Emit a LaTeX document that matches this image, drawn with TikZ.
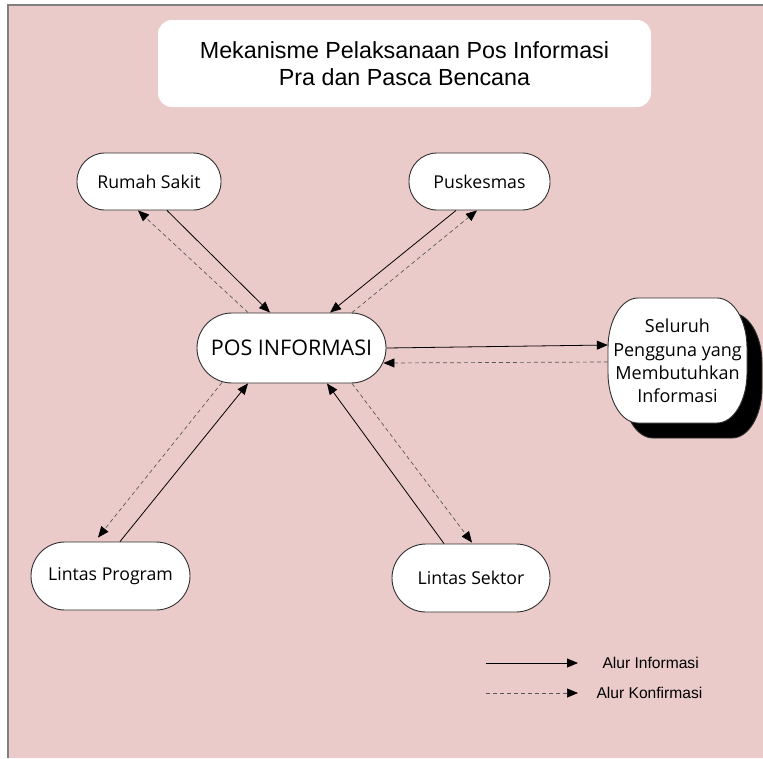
\documentclass[tikz,border=0pt]{standalone}
\usepackage{fontspec}
\setmainfont{Liberation Sans}
\newfontfamily\boxfont{Open Sans}
\usepackage{xcolor}
\usepackage{tikz}
\usetikzlibrary{arrows.meta, positioning}

\definecolor{bgpink}{HTML}{EBCBCA}
\definecolor{edgegray}{HTML}{303030}

\begin{document}
\begin{tikzpicture}[
  x=1pt, y=-1pt,
  unit/.style  = {draw=edgegray, fill=white, line width=0.9pt, rounded corners=28pt,
                  minimum height=57pt, inner sep=0pt, font=\boxfont\fontsize{17.7}{20}\selectfont},
  info/.style  = {-{Triangle[length=11pt, width=9pt]}, line width=0.8pt},
  konf/.style  = {-{Triangle[length=11pt, width=9pt, black]}, line width=0.7pt,
                  draw=black!65, dash pattern=on 4pt off 3pt},
  legend/.style = {font=\fontsize{15.6}{18}\selectfont, anchor=west}
]
\useasboundingbox (0,0) rectangle (763,758);

% ── Background ───────────────────────────────────────────────────────────────
\fill[bgpink] (8,5) rectangle (763,758);
\draw[gray, line width=1.5pt] (8,758) -- (8,5) -- (763,5);

% ── Title ────────────────────────────────────────────────────────────────────
\node[fill=white, rounded corners=14pt, minimum width=493pt, minimum height=87pt,
      align=center, font=\fontsize{23.3}{27}\selectfont] (title) at (404.5,63.5)
  {Mekanisme Pelaksanaan Pos Informasi\\Pra dan Pasca Bencana};

% ── Nodes ────────────────────────────────────────────────────────────────────
\node[unit, minimum width=144pt] (rs)   at (149,181.5)   {Rumah Sakit};
\node[unit, minimum width=141pt] (pusk) at (479.5,181.5) {Puskesmas};
\node[unit, minimum width=189pt, minimum height=70pt, rounded corners=35pt,
      font=\boxfont\fontsize{21.5}{24}\selectfont] (pos) at (291.5,348) {POS INFORMASI};
\node[unit, minimum width=159pt, minimum height=68pt, rounded corners=34pt] (lp) at (110.5,576) {Lintas Program};
\node[unit, minimum width=158pt, minimum height=68pt, rounded corners=34pt] (ls) at (471,578)   {Lintas Sektor};

% users box with its shadow
\foreach \s/\col in {15/black, 0/white}
  \filldraw[fill=\col, draw=edgegray, line width=0.9pt, shift={(\s,\s)}]
    (638,298) -- (717,298) .. controls (733.6,298) and (747,320.4) .. (747,348)
    -- (747,373) .. controls (747,400.6) and (733.6,423) .. (717,423)
    -- (638,423) .. controls (621.4,423) and (608,400.6) .. (608,373)
    -- (608,348) .. controls (608,320.4) and (621.4,298) .. (638,298) -- cycle;
\node[minimum width=139pt, minimum height=125pt, inner sep=0pt, align=center,
      font=\boxfont\fontsize{18}{23.4}\selectfont] (sel) at (677.5,361)
  {Seluruh\\Pengguna yang\\Membutuhkan\\Informasi};

% ── Information flow ─────────────────────────────────────────────────────────
\draw[info] ([xshift=18pt]rs.south)    -- ([xshift=-21.5pt]pos.north);
\draw[info] ([xshift=-23.5pt]pusk.south) -- ([xshift=38.5pt]pos.north);
\draw[info] ([xshift=9.5pt]lp.north)   -- ([xshift=-43.5pt]pos.south);
\draw[info] ([xshift=-27pt]ls.north)   -- ([xshift=35.5pt]pos.south);
\draw[info] (pos.east) -- ([yshift=16pt]sel.west);

% ── Confirmation flow ────────────────────────────────────────────────────────
\draw[konf] ([xshift=-43.5pt]pos.north) -- ([xshift=-11pt]rs.south);
\draw[konf] ([xshift=60.5pt]pos.north)  -- ([xshift=-2.5pt]pusk.south);
\draw[konf] ([xshift=-69.5pt, yshift=1pt]pos.south) -- ([xshift=-12.5pt, yshift=4pt]lp.north);
\draw[konf] ([xshift=60.5pt]pos.south)  -- ([xshift=1pt, yshift=1pt]ls.north);
\draw[konf] ([yshift=-1pt]sel.west)   -- ([xshift=-3pt, yshift=-15pt]pos.east);

% ── Legend ───────────────────────────────────────────────────────────────────
\coordinate (infoA) at (486,663);
\coordinate (infoB) at (578,663);
\coordinate (konfA) at (486,693);
\coordinate (konfB) at (578,693);
\draw[info] (infoA) -- (infoB);
\draw[konf] (konfA) -- (konfB);
\node[legend] (infoTxt) at (599,663) {Alur Informasi};
\node[legend] (konfTxt) at (593,693) {Alur Konfirmasi};

\end{tikzpicture}
\end{document}
